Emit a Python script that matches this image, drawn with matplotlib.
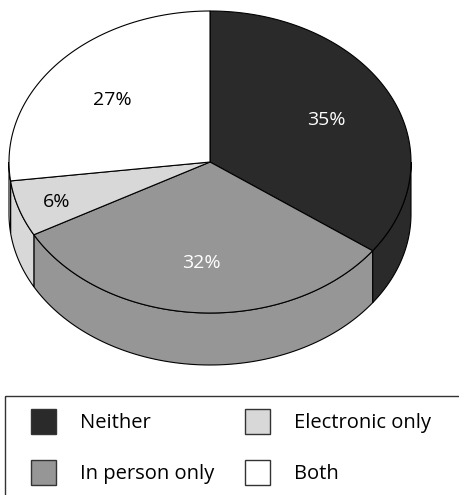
import matplotlib.pyplot as plt
import numpy as np
from matplotlib.patches import Polygon, Rectangle

# data
labels = ['Neither', 'In person only', 'Electronic only', 'Both']
shares = [35, 32, 6, 27]
colors = ['#2a2a2a', '#969696', '#d8d8d8', '#ffffff']
text_colors = ['white', 'white', 'black', 'black']
legend_order = [0, 2, 1, 3]  # row-wise: Neither, Electronic only / In person only, Both

W, H = 459, 495
cx, cy = 210, 162      # centre of the top face (pixels)
rx, ry = 201, 151      # ellipse radii
depth = 52             # thickness of the pie

plt.rcParams['font.family'] = ['Open Sans', 'DejaVu Sans']

fig = plt.figure(figsize=(W / 100, H / 100), dpi=100)
ax = fig.add_axes([0, 0, 1, 1])
ax.set_xlim(0, W)
ax.set_ylim(H, 0)
ax.axis('off')


def pt(theta, dz=0.0):
    t = np.radians(theta)
    return cx + rx * np.cos(t), cy - ry * np.sin(t) + dz


# angles: start at 12 o'clock, go clockwise
fracs = np.array(shares) / np.sum(shares)
ends = 90 - 360 * np.cumsum(fracs)
starts = np.concatenate([[90], ends[:-1]])

# side walls (front half only: theta in [-180, 0])
for a0, a1, c in zip(starts, ends, colors):
    lo, hi = a1, a0
    for shift in (0, -360, 360):
        s_lo, s_hi = max(lo + shift, -180), min(hi + shift, 0)
        if s_hi > s_lo:
            th = np.linspace(s_hi, s_lo, 80)
            top = [pt(t) for t in th]
            bot = [pt(t, depth) for t in th[::-1]]
            ax.add_patch(Polygon(top + bot, closed=True, facecolor=c,
                                 edgecolor='black', lw=0.8, zorder=1))

# top faces
for a0, a1, c in zip(starts, ends, colors):
    th = np.linspace(a0, a1, 120)
    verts = [(cx, cy)] + [pt(t) for t in th]
    ax.add_patch(Polygon(verts, closed=True, facecolor=c,
                         edgecolor='black', lw=0.8, zorder=2))

# percentage labels
for a0, a1, s, f, tc in zip(starts, ends, shares, fracs, text_colors):
    mid = (a0 + a1) / 2
    r = 0.65 if f > 0.1 else 0.8
    t = np.radians(mid)
    x = cx + r * rx * np.cos(t)
    y = cy - r * ry * np.sin(t) + 3
    ax.text(x, y, f'{s}%', color=tc, fontsize=14, ha='center', va='center',
            zorder=3)

# legend box
ax.add_patch(Rectangle((5, 396), 470, 130, facecolor='none',
                       edgecolor='#333333', lw=1.0, zorder=1, clip_on=True))
for k, i in enumerate(legend_order):
    row, col = divmod(k, 2)
    x0 = 31 + col * 214
    y0 = 409 + row * 51
    ax.add_patch(Rectangle((x0, y0), 25, 25, facecolor=colors[i],
                           edgecolor='#333333', lw=1.0, zorder=2))
    ax.text(x0 + 49, y0 + 14, labels[i], fontsize=14.5, color='black',
            ha='left', va='center')

fig.savefig('out.png', dpi=100)
